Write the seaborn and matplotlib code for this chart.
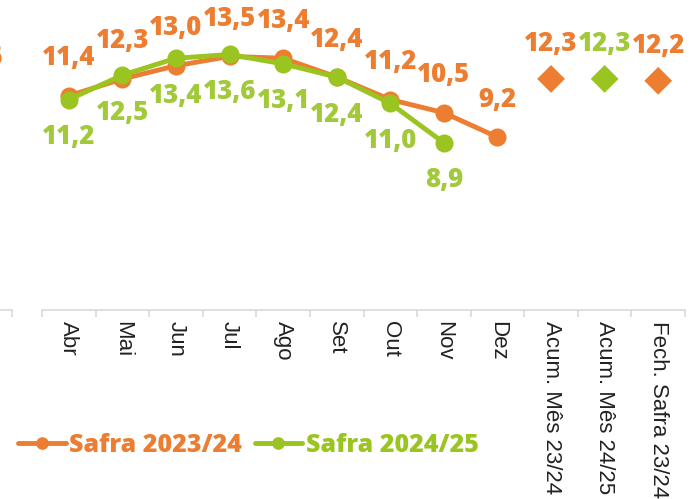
import matplotlib
matplotlib.use("Agg")
import matplotlib.pyplot as plt
import seaborn as sns
import pandas as pd
import numpy as np

categories = ["Abr", "Mai", "Jun", "Jul", "Ago", "Set", "Out", "Nov", "Dez",
              "Acum. Mês 23/24", "Acum. Mês 24/25", "Fech. Safra 23/24"]
safra_2324 = [11.4, 12.3, 13.0, 13.5, 13.4, 12.4, 11.2, 10.5, 9.2]
safra_2425 = [11.2, 12.5, 13.4, 13.6, 13.1, 12.4, 11.0, 8.9]
summary_cats = ["Acum. Mês 23/24", "Acum. Mês 24/25", "Fech. Safra 23/24"]
summary_vals = [12.3, 12.3, 12.2]
summary_series = ["23/24", "24/25", "23/24"]

ORANGE = "#ED7D31"
GREEN = "#9AC420"
GREEN_TXT = "#A2C93A"

sns.set_theme(style="white")
plt.rcParams["font.family"] = ["Liberation Sans", "DejaVu Sans"]

W, H = 700, 499
fig = plt.figure(figsize=(W / 100, H / 100), dpi=100)
ax = fig.add_axes([42 / W, (H - 310) / H, (685 - 42) / W, 310 / H])

pos = {c: i for i, c in enumerate(categories)}
df1 = pd.DataFrame({"x": [pos[c] for c in categories[:len(safra_2324)]], "y": safra_2324})
df2 = pd.DataFrame({"x": [pos[c] for c in categories[:len(safra_2425)]], "y": safra_2425})

sns.lineplot(data=df1, x="x", y="y", ax=ax, color=ORANGE, linewidth=3, marker="o",
             markersize=13, markeredgewidth=0, label="Safra 2023/24", zorder=3)
sns.lineplot(data=df2, x="x", y="y", ax=ax, color=GREEN, linewidth=3, marker="o",
             markersize=13, markeredgewidth=0, label="Safra 2024/25", zorder=4)

sdf = pd.DataFrame({"x": [pos[c] for c in summary_cats], "y": summary_vals, "s": summary_series})
sns.scatterplot(data=sdf, x="x", y="y", hue="s", palette={"23/24": ORANGE, "24/25": GREEN},
                marker="D", s=200, linewidth=0, ax=ax, legend=False, zorder=5)

lab_font = dict(family=["Open Sans", "DejaVu Sans"], fontweight="heavy", fontsize=18.5)

def fmt(v):
    return f"{v:.1f}".replace(".", ",")

for x, y in zip(df1["x"], df1["y"]):
    ax.annotate(fmt(y), (x, y), xytext=(0, 27), textcoords="offset points",
                ha="center", va="center", color=ORANGE, **lab_font)
for x, y in zip(df2["x"], df2["y"]):
    ax.annotate(fmt(y), (x, y), xytext=(0, -27), textcoords="offset points",
                ha="center", va="center", color=GREEN_TXT, **lab_font)
for x, y, s in zip(sdf["x"], sdf["y"], sdf["s"]):
    ax.annotate(fmt(y), (x, y), xytext=(0, 25), textcoords="offset points",
                ha="center", va="center", color=ORANGE if s == "23/24" else GREEN_TXT, **lab_font)

ax.set_xlim(-0.5, len(categories) - 0.5)
ax.set_ylim(0, 16.5)
ax.set_yticks([])
ax.set_xlabel("")
ax.set_ylabel("")
for side in ["top", "right", "left"]:
    ax.spines[side].set_visible(False)
ax.spines["bottom"].set_color("#D9D9D9")
ax.spines["bottom"].set_linewidth(1.2)

ax.set_xticks(np.arange(len(categories) + 1) - 0.5)
ax.set_xticklabels([])
ax.tick_params(axis="x", which="major", direction="out", length=5, width=1.2,
               color="#D9D9D9", bottom=True)
ax.set_xticks(np.arange(len(categories)), minor=True)
ax.set_xticklabels(categories, minor=True, rotation=-90, fontsize=16,
                   color="#222222", va="top", ha="center")
ax.tick_params(axis="x", which="minor", length=0, pad=8)

# fragment of the neighbouring chart at the left edge
axf = fig.add_axes([-40 / W, (H - 310) / H, 52 / W, 310 / H])
axf.set_xlim(0, 1)
axf.set_ylim(0, 16.5)
axf.set_yticks([])
for side in ["top", "right", "left"]:
    axf.spines[side].set_visible(False)
axf.spines["bottom"].set_color("#D9D9D9")
axf.spines["bottom"].set_linewidth(1.2)
axf.set_xticks([1])
axf.set_xticklabels([])
axf.tick_params(axis="x", direction="out", length=5, width=1.2, color="#D9D9D9", bottom=True)
axf.patch.set_alpha(0)
fig.text(3 / W, (H - 58) / H, "12,6", ha="right", va="center", color=ORANGE, **lab_font)

handles, labels = ax.get_legend_handles_labels()
if ax.legend_:
    ax.legend_.remove()
for h in handles:
    h.set_linewidth(3.5)
leg = fig.legend(handles, labels, loc="center left", bbox_to_anchor=(18 / W, (H - 445) / H),
                 ncol=2, frameon=False, borderpad=0, borderaxespad=0,
                 handlelength=1.9, handletextpad=0.15, columnspacing=0.5,
                 markerscale=0.7, labelcolor="linecolor",
                 prop=dict(family=["Open Sans", "DejaVu Sans"], weight="heavy", size=18))

fig.savefig("out.png", dpi=100)
